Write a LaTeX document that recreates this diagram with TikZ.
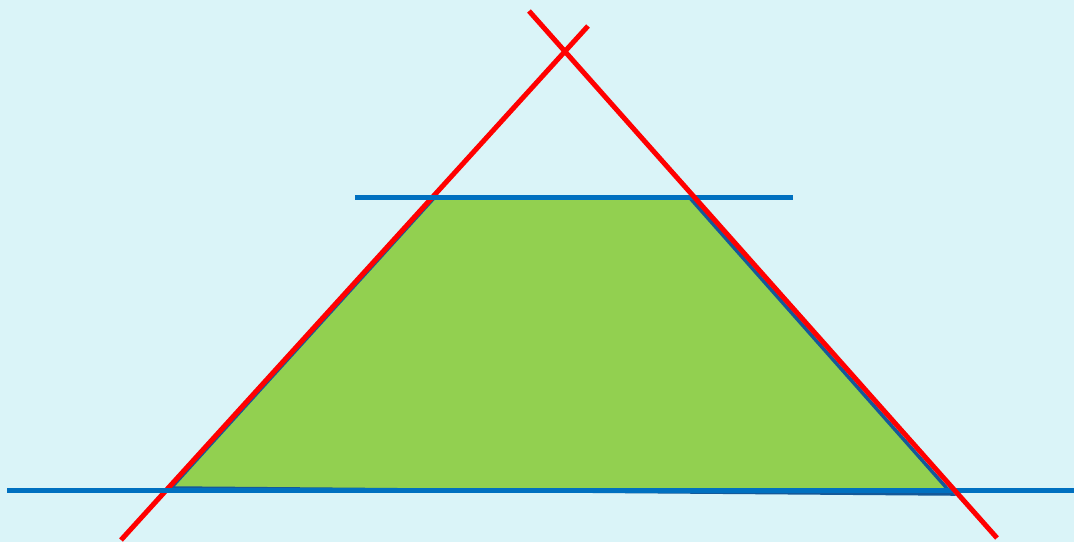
\documentclass[tikz,border=0pt]{standalone}
\begin{document}
\begin{tikzpicture}[x=1pt,y=-1pt,
  redline/.style={draw=redc,line width=5pt},
  blueline/.style={draw=bluec,line width=5pt},
  trap/.style={fill=greenc,draw=darkc,line width=3.5pt,line join=miter}]
\definecolor{bgc}{HTML}{DAF4F8}
\definecolor{greenc}{HTML}{92D050}
\definecolor{redc}{HTML}{FF0000}
\definecolor{bluec}{HTML}{0070C0}
\definecolor{darkc}{HTML}{14599A}
\fill[bgc] (0,0) rectangle (1074,542);
\useasboundingbox (0,0) rectangle (1074,542);
% trapezoid corners
\coordinate (tl) at (434,198);
\coordinate (tr) at (690,198);
\coordinate (br) at (952,494);
\coordinate (bl) at (171,488);
\draw[trap] (tl) -- (tr) -- (br) -- (bl) -- cycle;
% red lines
\coordinate (r1a) at (121,540);
\coordinate (r1b) at (588,26);
\coordinate (r2a) at (529,11);
\coordinate (r2b) at (997,538);
\draw[redline] (r1a) -- (r1b);
% blue lines
\coordinate (b1a) at (355,197);
\coordinate (b1b) at (793,197);
\coordinate (b2a) at (7,490);
\coordinate (b2b) at (1074,490);
\draw[blueline] (b1a) -- (b1b);
\draw[blueline] (b2a) -- (b2b);
\draw[redline] (r2a) -- (r2b);
\end{tikzpicture}
\end{document}
